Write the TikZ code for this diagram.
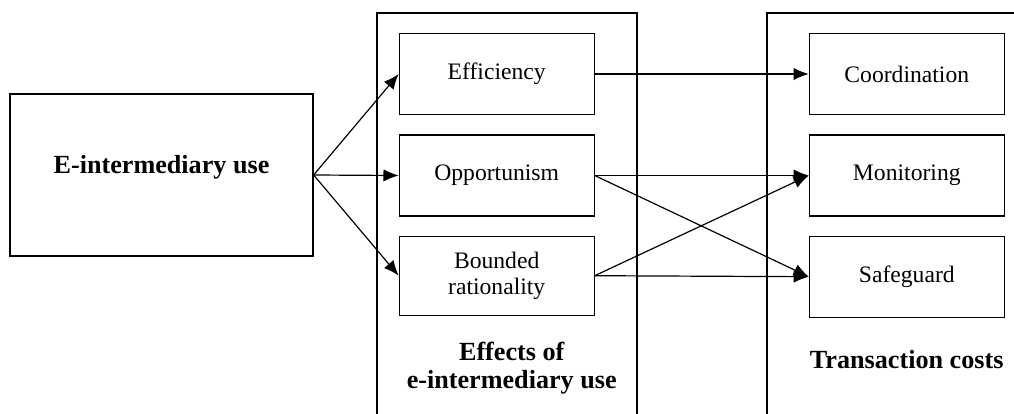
\documentclass[tikz,border=0pt]{standalone}
\usepackage{fontspec}
\setmainfont{Liberation Serif}
\usetikzlibrary{arrows.meta}

\begin{document}
\begin{tikzpicture}[x=0.025cm,y=-0.025cm,line width=0.85pt,
	box/.style={draw,inner sep=0pt,minimum width=4.87cm,minimum height=2.02cm,align=center,font=\rmfamily\fontsize{16.8}{18.9}\selectfont},
	head/.style={align=center,font=\rmfamily\fontsize{18.6}{19.9}\selectfont\bfseries},
	arr/.style={-{Latex[length=0.38cm,width=0.31cm]}}]
	\useasboundingbox (0,0) rectangle (1014,414);
	% define coordinates
	\coordinate (A) at (377,414);
	\coordinate (B) at (637,13);
	\coordinate (C) at (637,414);
	\coordinate (D) at (767,414);
	\coordinate (E) at (1014,13);
	% frames
	\draw (A) |- (B) -- (C);
	\draw (D) |- (E);
	\node[head] (effects) at (511.7,368) {Effects of\\e-intermediary use};
	\node[head] (tcost) at (906.7,360) {Transaction costs};
	% boxes
	\node[box,minimum width=7.575cm,minimum height=4.05cm,text depth=0.54cm,font=\rmfamily\fontsize{18.6}{20}\selectfont\bfseries] (use) at (161.5,175) {E-intermediary use};
	\node[box] (eff) at (496.7,74) {Efficiency};
	\node[box] (opp) at (496.7,175.5) {Opportunism};
	\node[box,minimum height=1.97cm] (bnd) at (496.7,275.7) {Bounded\\rationality};
	\node[box] (coord) at (906.8,74) {Coordination};
	\node[box] (mon) at (906.8,175.5) {Monitoring};
	\node[box] (safe) at (906.8,276.7) {Safeguard};
	% arrows
	\draw[arr] (use.east) -- (eff.west);
	\draw[arr] (use.east) -- (opp.west);
	\draw[arr] (use.east) -- (bnd.west);

	\draw[arr] (eff.east) -- (coord.west);
	\draw[arr] (opp.east) -- (mon.west);
	\draw[arr] (opp.east) -- (safe.west);
	\draw[arr] (bnd.east) -- (mon.west);
	\draw[arr] (bnd.east) -- (safe.west);
\end{tikzpicture}
\end{document}
